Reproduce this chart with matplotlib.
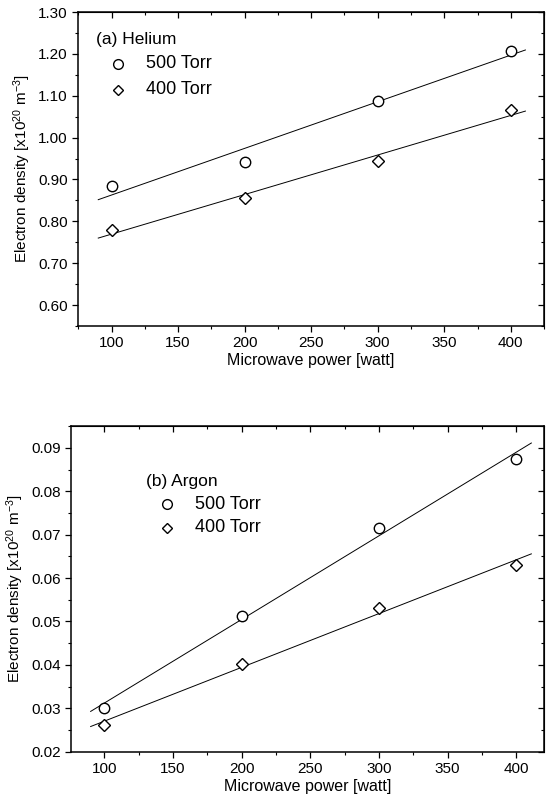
import matplotlib.pyplot as plt
import numpy as np
from matplotlib.ticker import MultipleLocator, FormatStrFormatter

plt.rcParams['font.family'] = ['Liberation Sans', 'DejaVu Sans']
plt.rcParams['mathtext.fontset'] = 'custom'
plt.rcParams['mathtext.rm'] = 'Liberation Sans'
plt.rcParams['mathtext.it'] = 'Liberation Sans'
plt.rcParams['mathtext.default'] = 'regular'

power = np.array([100, 200, 300, 400])

# (a) Helium
he_500 = np.array([0.884, 0.942, 1.087, 1.207])
he_400 = np.array([0.780, 0.855, 0.945, 1.065])

# (b) Argon
ar_500 = np.array([0.0301, 0.0512, 0.0716, 0.0875])
ar_400 = np.array([0.0261, 0.0402, 0.0531, 0.0631])

fit_x = np.array([90, 411])


def setup(ax, xlim, ylim, ymaj, ymin):
    ax.set_xlim(*xlim)
    ax.set_ylim(*ylim)
    ax.xaxis.set_major_locator(MultipleLocator(50))
    ax.xaxis.set_minor_locator(MultipleLocator(25))
    ax.yaxis.set_major_locator(MultipleLocator(ymaj))
    ax.yaxis.set_minor_locator(MultipleLocator(ymin))
    ax.yaxis.set_major_formatter(FormatStrFormatter('%.2f'))
    ax.tick_params(which='both', direction='out', labelsize=11)
    ax.tick_params(which='major', length=4, width=0.9)
    ax.tick_params(which='minor', length=2.5, width=0.8)
    ax.set_xlabel('Microwave power [watt]', fontsize=11.5, labelpad=2)
    ax.set_ylabel(r'Electron density [x10$^{20}$ m$^{-3}$]', fontsize=11, labelpad=4)
    # mirrored ticks pointing inward
    top = ax.secondary_xaxis('top')
    top.xaxis.set_major_locator(MultipleLocator(50))
    top.xaxis.set_minor_locator(MultipleLocator(25))
    top.tick_params(which='both', direction='in', labeltop=False)
    top.tick_params(which='major', length=4, width=0.9)
    top.tick_params(which='minor', length=2.5, width=0.8)
    right = ax.secondary_yaxis('right')
    right.yaxis.set_major_locator(MultipleLocator(ymaj))
    right.yaxis.set_minor_locator(MultipleLocator(ymin))
    right.tick_params(which='both', direction='in', labelright=False)
    right.tick_params(which='major', length=4, width=0.9)
    right.tick_params(which='minor', length=2.5, width=0.8)
    for sp in ax.spines.values():
        sp.set_linewidth(1.1)


def draw_panel(ax, y500, y400):
    for y, m in [(y500, 'o'), (y400, 'D')]:
        ax.plot(power, y, linestyle='none', marker=m, ms=7.5 if m == 'o' else 6,
                mfc='white', mec='black', mew=1.0, zorder=3)
        k, b = np.polyfit(power, y, 1)
        ax.plot(fit_x, k * fit_x + b, color='black', lw=0.7, zorder=2)


def legend_block(ax, title, x0, y0, xm, xt, y1, y2):
    ax.text(x0, y0, title, transform=ax.transAxes, fontsize=12.5, va='center')
    ax.plot([xm], [y1], 'o', ms=7, mfc='white', mec='black', mew=1.0, transform=ax.transAxes)
    ax.plot([xm], [y2], 'D', ms=5.5, mfc='white', mec='black', mew=1.0, transform=ax.transAxes)
    ax.text(xt, y1, '500 Torr', transform=ax.transAxes, fontsize=13, va='center')
    ax.text(xt, y2, '400 Torr', transform=ax.transAxes, fontsize=13, va='center')


fig = plt.figure(figsize=(5.46, 8.02), dpi=100)

ax1 = fig.add_axes([0.1434, 0.5935, 0.853, 0.3915])
draw_panel(ax1, he_500, he_400)
setup(ax1, (75, 425), (0.55, 1.30), 0.10, 0.05)
legend_block(ax1, '(a) Helium', 0.037, 0.911, 0.086, 0.145, 0.836, 0.753)

ax2 = fig.add_axes([0.1308, 0.0627, 0.865, 0.406])
draw_panel(ax2, ar_500, ar_400)
setup(ax2, (76, 420), (0.02, 0.095), 0.01, 0.005)
legend_block(ax2, '(b) Argon', 0.157, 0.829, 0.202, 0.261, 0.760, 0.688)

fig.savefig('out.png', dpi=100)
